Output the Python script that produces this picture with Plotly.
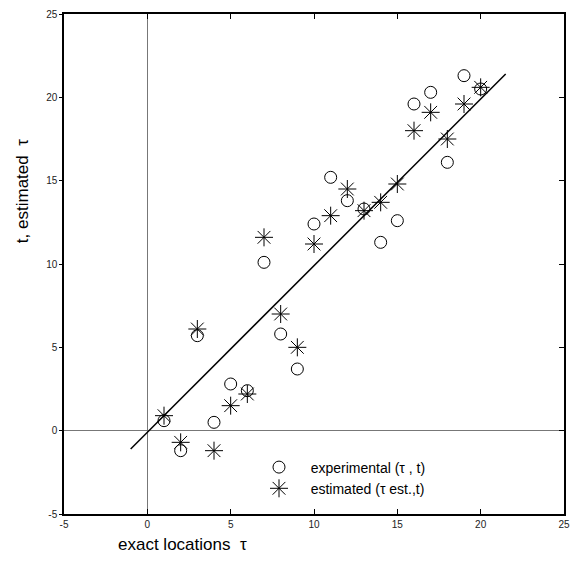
import plotly.graph_objects as go

positions = list(range(1, 21))
experimental = [0.6, -1.2, 5.7, 0.5, 2.8, 2.4, 10.1, 5.8, 3.7, 12.4,
                15.2, 13.8, 13.3, 11.3, 12.6, 19.6, 20.3, 16.1, 21.3, 20.5]
estimated = [0.9, -0.7, 6.1, -1.2, 1.5, 2.2, 11.6, 7.0, 5.0, 11.2,
             12.9, 14.5, 13.2, 13.7, 14.8, 18.0, 19.1, 17.5, 19.6, 20.6]
fit_x = [-1.0, 21.5]
fit_y = [-1.1, 21.4]
ticks = [-5, 0, 5, 10, 15, 20, 25]
tick_labels = ["-5", "0", "5", "10", "15", "20", "25"]

fig = go.Figure()
fig.add_trace(go.Scatter(x=fit_x, y=fit_y, mode="lines",
                         line=dict(color="black", width=1.5), showlegend=False))
fig.add_trace(go.Scatter(x=positions, y=experimental, mode="markers",
                         name="   experimental (τ , t)",
                         marker=dict(symbol="circle-open", size=12, color="black",
                                     line=dict(width=1, color="black"))))
fig.add_trace(go.Scatter(x=positions, y=estimated, mode="markers",
                         name="   estimated (τ est.,t)",
                         marker=dict(symbol="asterisk-open", size=15, color="black",
                                     line=dict(width=1, color="black"))))

axis_font = dict(family="Arial, Liberation Sans, sans-serif", size=10, color="#222")
pw, ph = 578 - 64 - 8, 569 - 13 - 55
fig.update_layout(
    width=578, height=569,
    margin=dict(l=64, r=8, t=13, b=55),
    plot_bgcolor="white", paper_bgcolor="white",
    font=dict(family="Arial, Liberation Sans, sans-serif", color="black"),
    xaxis=dict(range=[-5, 25], tickvals=ticks, ticktext=tick_labels, ticks="inside", ticklen=5,
               tickcolor="black", showline=True, linecolor="black", linewidth=1.5,
               mirror="ticks", showgrid=False, zeroline=True, zerolinecolor="#777",
               zerolinewidth=1, tickfont=axis_font),
    yaxis=dict(range=[-5, 25], tickvals=ticks, ticktext=tick_labels, ticks="outside", ticklen=3,
               tickcolor="black", showline=True, linecolor="black", linewidth=1.5,
               mirror=True, showgrid=False, zeroline=True, zerolinecolor="#777",
               zerolinewidth=1, tickfont=axis_font),
    yaxis2=dict(range=[-5, 25], tickvals=ticks, ticks="inside", ticklen=5,
                tickcolor="black", overlaying="y", side="right", showticklabels=False,
                showgrid=False, zeroline=False, showline=False, matches="y"),
    legend=dict(x=0.39, y=0.125, xanchor="left", yanchor="top",
                bgcolor="rgba(0,0,0,0)", borderwidth=0,
                font=dict(size=14, family="Arial, Liberation Sans, sans-serif"),
                tracegroupgap=4),
    annotations=[
        dict(text="exact locations  τ", x=(184 - 64) / pw, y=(569 - 55 - 545) / ph,
             xref="paper", yref="paper", xanchor="center", yanchor="middle",
             showarrow=False, font=dict(size=17)),
        dict(text="t, estimated  τ", x=(22 - 64) / pw, y=(569 - 55 - 190) / ph,
             xref="paper", yref="paper", xanchor="center", yanchor="middle",
             showarrow=False, textangle=-90, font=dict(size=17)),
    ],
)
fig.add_trace(go.Scatter(x=[None], y=[None], yaxis="y2", showlegend=False))

fig.write_html("out.html")
